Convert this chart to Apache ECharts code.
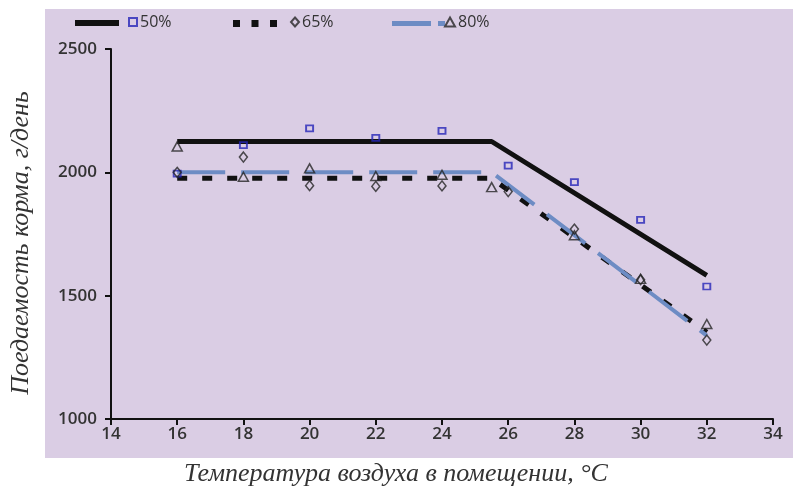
<!DOCTYPE html>
<html><head><meta charset="utf-8">
<script src="https://cdn.jsdelivr.net/npm/echarts@6/dist/echarts.min.js"></script>
<style>html,body{margin:0;padding:0;background:#fff}#c{width:793px;height:495px}</style>
</head><body><div id="c"></div>
<script>
const xTicks = [14,16,18,20,22,24,26,28,30,32,34];
const yTicks = [1000,1500,2000,2500];
const temps50 = [16,18,20,22,24,26,28,30,32];
const feed50 = [1995,2110,2178,2140,2168,2027,1960,1807,1537];
const temps65 = [16,18,20,22,24,26,28,30,32];
const feed65 = [2000,2062,1946,1943,1945,1922,1770,1565,1320];
const temps80 = [16,18,20,22,24,25.5,28,30,32];
const feed80 = [2105,1982,2016,1985,1990,1940,1745,1568,1385];
const lineX = [16,25.5,32];
const line50 = [2125,2125,1582];
const line65 = [1976,1976,1352];
const line80 = [2000,2000,1338];

const zip = (xs, ys) => xs.map((x,i)=>[x, ys[i]]);
const chart = echarts.init(document.getElementById('c'), null, {renderer:'canvas'});
const txt = '#333';
const blueLine = '#6d8cc4';
const sqColor = '#2626b8';
const mk = '#262626';
const sans = 'Open Sans';
const serif = 'Liberation Serif';

function lg(name, left, top, opts){
  return Object.assign({data:[name], left:left, top:top, orient:'horizontal', itemGap:0, padding:0,
    textStyle:{color:txt, fontFamily:sans, fontSize:16, padding:[0,0,0,-2]}}, opts);
}

chart.setOption({
  animation:false,
  backgroundColor:'#ffffff',
  graphic:[{type:'rect', z:-10, silent:true, shape:{x:45,y:9,width:748,height:449}, style:{fill:'#dacde4'}}],
  legend:[
    lg('L50', 75, 20, {itemWidth:44, itemHeight:6, formatter:()=>'', icon:'path://M0,0h44v6h-44z'}),
    lg('L65', 233, 20, {itemWidth:44, itemHeight:7, formatter:()=>'', icon:'path://M0,0h7v7h-7z M18.5,0h7v7h-7z M37,0h7v7h-7z'}),
    lg('L80', 392, 21, {itemWidth:53, itemHeight:5, formatter:()=>'', icon:'path://M0,0h39v5h-39z M46,0h7v5h-7z'}),
    lg('50%', 128, 14, {itemWidth:8, itemHeight:8}),
    lg('65%', 290, 14, {itemWidth:8, itemHeight:9}),
    lg('80%', 444, 14, {itemWidth:10, itemHeight:9})
  ],
  grid:{left:111, right:20, top:49, bottom:76, containLabel:false, outerBoundsMode:'none'},
  xAxis:{type:'value', min:14, max:34, interval:2,
    name:'Температура воздуха в помещении, °C', nameLocation:'middle', nameGap:42,
    nameTextStyle:{fontFamily:serif, fontStyle:'italic', fontSize:26, color:'#333', padding:[0,92,0,0]},
    axisLine:{onZero:false, lineStyle:{color:'#111', width:2}},
    axisTick:{show:true, length:6, lineStyle:{color:'#111', width:2}},
    axisLabel:{color:txt, fontFamily:sans, fontSize:17, fontWeight:600, margin:7},
    splitLine:{show:false}},
  yAxis:{type:'value', min:1000, max:2500, interval:500,
    name:'Поедаемость корма, г/день', nameLocation:'middle', nameGap:77,
    nameTextStyle:{fontFamily:serif, fontStyle:'italic', fontSize:26, color:'#333', padding:[0,18,0,0]},
    axisLine:{show:true, lineStyle:{color:'#111', width:2}},
    axisTick:{show:true, length:6, lineStyle:{color:'#111', width:2}},
    axisLabel:{color:txt, fontFamily:sans, fontSize:17, fontWeight:600, margin:14, formatter:v=>String(v)},
    splitLine:{show:false}},
  series:[
    {name:'L65', type:'line', data:zip(lineX,line65), symbol:'none', z:2, color:'#111',
      itemStyle:{color:'#111'}, lineStyle:{color:'#111', width:5, type:[10,15], cap:'butt'}},
    {name:'L80', type:'line', data:zip(lineX,line80), symbol:'none', z:3, color:blueLine,
      itemStyle:{color:blueLine}, lineStyle:{color:blueLine, width:4, type:[48,16], cap:'butt'}},
    {name:'L50', type:'line', data:zip(lineX,line50), symbol:'none', z:3, color:'#111',
      itemStyle:{color:'#111'}, lineStyle:{color:'#111', width:5, cap:'butt'}},
    {name:'50%', type:'scatter', data:zip(temps50,feed50), symbol:'rect', symbolSize:[7,6], z:5,
      itemStyle:{color:'rgba(0,0,0,0)', borderColor:sqColor, borderWidth:1.8}},
    {name:'65%', type:'scatter', data:zip(temps65,feed65), symbol:'diamond', symbolSize:[8,10], z:5,
      itemStyle:{color:'rgba(0,0,0,0)', borderColor:mk, borderWidth:1.5}},
    {name:'80%', type:'scatter', data:zip(temps80,feed80), symbol:'triangle', symbolSize:[10,9], z:5,
      itemStyle:{color:'rgba(0,0,0,0)', borderColor:mk, borderWidth:1.5}}
  ]
});
</script></body></html>
